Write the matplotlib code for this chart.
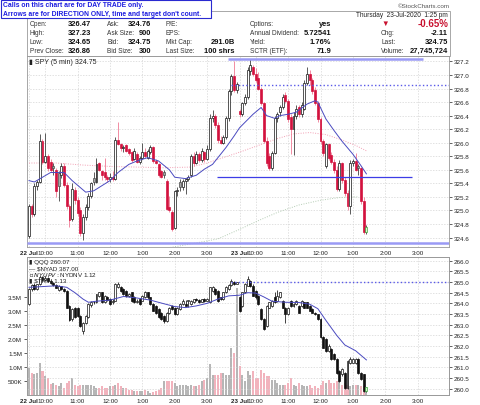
import numpy as np
import matplotlib.pyplot as plt
from matplotlib.patches import Rectangle

plt.rcParams['font.family'] = ['Liberation Sans', 'DejaVu Sans']

W, H = 480, 406

# SPY 5 min bars: bar 0 = 9:30 on 22 Jul, bar 78 = 9:30 on 23 Jul
spy_open = [324.62, 325.06, 324.95, 325.36, 325.42, 326.02, 325.72, 325.80, 325.72, 325.66,
            325.60, 325.55, 325.52, 325.66, 325.38, 325.06, 324.88, 325.30, 325.16, 325.00,
            324.66, 324.90, 325.05, 325.22, 325.48, 325.42, 325.70, 325.58, 325.56, 325.50,
            325.46, 325.50, 325.47, 326.04, 325.98, 325.92, 325.96, 325.90, 325.86, 325.76,
            325.84, 325.72, 325.78, 325.86, 325.78, 325.86, 325.93, 325.73, 325.68, 325.58,
            325.56, 325.44, 325.05, 324.98, 324.74, 325.28, 325.42, 325.34, 325.43, 325.46,
            325.52, 325.80, 325.70, 325.84, 325.74, 325.86, 325.76, 325.90, 326.36, 326.40,
            326.26, 326.04, 326.00, 326.08, 326.36, 326.76, 326.98, 326.78,
            326.47, 326.42, 326.58, 326.68, 327.06, 327.12, 327.02, 326.95, 326.80, 326.58,
            326.03, 325.80, 325.62, 325.85, 326.36, 326.45, 326.52, 326.70, 326.62, 326.38,
            326.20, 326.40, 326.52, 326.42, 326.50, 326.88, 327.02, 326.92, 326.78, 326.58,
            326.35, 326.02, 325.65, 325.98, 325.82, 325.72, 325.60, 325.32, 325.70, 325.45,
            325.26, 325.06, 325.70, 325.73, 325.66, 325.62, 325.14, 324.68]
spy_high = [325.10, 325.10, 325.40, 325.45, 326.13, 326.06, 326.15, 325.84, 325.76, 325.70,
            325.62, 325.58, 325.70, 325.70, 325.42, 325.10, 325.40, 325.34, 325.20, 325.05,
            324.95, 325.10, 325.25, 325.42, 325.56, 325.78, 325.72, 325.60, 325.78, 325.52,
            325.55, 325.58, 326.08, 326.30, 326.00, 325.96, 325.98, 325.92, 325.88, 325.92,
            325.86, 325.80, 326.00, 325.92, 325.90, 325.96, 325.95, 325.76, 325.70, 325.60,
            325.60, 325.46, 325.22, 325.00, 325.30, 325.34, 325.46, 325.46, 325.48, 325.52,
            325.84, 325.86, 325.88, 325.86, 325.92, 325.88, 325.96, 326.42, 326.48, 326.42,
            326.30, 326.10, 326.12, 326.40, 326.80, 327.02, 327.20, 326.90,
            326.50, 326.60, 326.72, 327.12, 327.23, 327.15, 327.10, 327.05, 326.82, 326.60,
            326.08, 325.85, 325.88, 326.40, 326.45, 326.55, 326.72, 326.75, 326.65, 326.42,
            326.45, 326.55, 326.55, 326.60, 326.92, 327.12, 327.08, 326.95, 326.82, 326.62,
            326.38, 326.05, 326.00, 326.00, 325.86, 325.76, 325.65, 325.74, 325.72, 325.50,
            325.30, 325.74, 325.76, 325.85, 325.68, 325.64, 325.20, 324.78]
spy_low = [324.60, 324.90, 324.92, 325.30, 325.40, 325.68, 325.70, 325.58, 325.56, 325.52,
           325.20, 325.14, 325.48, 325.35, 325.02, 324.76, 324.84, 325.10, 324.92, 324.62,
           324.56, 324.86, 325.00, 325.18, 325.38, 325.40, 325.58, 325.45, 325.45, 325.42,
           325.42, 325.44, 325.45, 325.96, 325.88, 325.86, 325.86, 325.82, 325.72, 325.74,
           325.70, 325.68, 325.76, 325.78, 325.76, 325.84, 325.70, 325.68, 325.50, 325.48,
           325.48, 325.00, 324.98, 324.70, 324.72, 325.22, 325.28, 325.30, 325.24, 325.44,
           325.50, 325.66, 325.68, 325.72, 325.72, 325.72, 325.74, 325.88, 326.30, 326.22,
           326.00, 325.98, 325.98, 326.05, 326.32, 326.70, 326.75, 326.74,
           326.38, 326.40, 326.55, 326.65, 327.00, 326.98, 326.90, 326.78, 326.55, 326.00,
           325.65, 325.59, 325.60, 325.84, 326.30, 326.40, 326.50, 326.58, 326.30, 325.83,
           325.82, 326.35, 326.38, 326.38, 326.48, 326.85, 326.85, 326.72, 326.55, 326.30,
           325.98, 325.80, 325.62, 325.75, 325.68, 325.55, 325.28, 325.28, 325.40, 325.22,
           325.00, 324.95, 325.66, 325.58, 325.52, 325.10, 324.65, 324.65]
spy_close = [325.06, 324.95, 325.36, 325.42, 326.02, 325.72, 325.80, 325.62, 325.60, 325.62,
             325.28, 325.36, 325.66, 325.38, 325.06, 324.86, 325.32, 325.16, 324.96, 324.66,
             324.90, 325.05, 325.22, 325.40, 325.42, 325.68, 325.60, 325.52, 325.50, 325.46,
             325.50, 325.47, 326.04, 325.98, 325.92, 325.94, 325.88, 325.85, 325.74, 325.88,
             325.72, 325.78, 325.86, 325.80, 325.88, 325.93, 325.73, 325.70, 325.53, 325.50,
             325.52, 325.02, 325.00, 324.73, 325.28, 325.30, 325.34, 325.43, 325.46, 325.50,
             325.80, 325.70, 325.84, 325.74, 325.88, 325.76, 325.90, 326.36, 326.40, 326.26,
             326.04, 326.00, 326.08, 326.36, 326.76, 326.98, 326.78, 326.86,
             326.42, 326.58, 326.68, 327.08, 327.15, 327.02, 326.92, 326.80, 326.58, 326.03,
             325.70, 325.62, 325.85, 326.36, 326.42, 326.52, 326.68, 326.62, 326.35, 326.20,
             326.40, 326.50, 326.42, 326.55, 326.88, 327.02, 326.92, 326.76, 326.58, 326.35,
             326.02, 325.85, 325.98, 325.78, 325.72, 325.60, 325.32, 325.70, 325.45, 325.26,
             325.06, 325.70, 325.73, 325.60, 325.62, 325.14, 324.68, 324.75]

# volume in millions of shares
spy_volume = [0.97, 0.79, 0.73, 0.78, 1.15, 0.85, 0.66, 0.60, 0.39, 0.42,
              0.35, 0.30, 0.42, 0.24, 0.42, 0.50, 0.60, 0.36, 0.30, 0.36,
              0.36, 0.36, 0.33, 0.33, 0.30, 0.24, 0.24, 0.30, 0.24, 0.24,
              0.30, 0.30, 0.36, 0.42, 0.30, 0.24, 0.24, 0.18, 0.18, 0.12,
              0.12, 0.12, 0.12, 0.18, 0.12, 0.06, 0.10, 0.12, 0.18, 0.24,
              0.48, 0.48, 0.48, 0.48, 0.42, 0.30, 0.36, 0.36, 0.36, 0.30,
              0.36, 0.30, 0.30, 0.36, 0.48, 0.54, 0.60, 1.09, 0.72, 0.72,
              0.72, 0.78, 0.78, 0.72, 0.72, 1.69, 1.51, 3.85,
              1.03, 0.72, 0.48, 0.84, 0.72, 0.84, 0.60, 0.60, 0.90, 0.78,
              0.66, 0.66, 0.54, 0.54, 0.42, 0.36, 0.36, 0.36, 0.42, 0.60,
              0.36, 0.30, 0.42, 0.36, 0.30, 0.30, 0.36, 0.24, 0.30, 0.24,
              0.36, 0.48, 0.42, 0.54, 0.42, 0.42, 0.48, 0.48, 0.36, 0.42,
              0.36, 0.30, 0.36, 0.36, 0.36, 0.30, 0.30, 0.24]

# moving averages (bar index, value)
spy_ema_x = [0, 2, 8, 13, 16, 21, 24, 28, 30, 33, 37, 40, 44, 48, 52, 54, 58, 62, 65, 68,
             70, 73, 76, 78, 83, 86, 88, 91, 93, 96, 99, 103, 106, 107, 110, 113, 116, 120, 123, 125]
spy_ema_y = [325.44, 325.42, 325.56, 325.56, 325.44, 325.27, 325.29, 325.39, 325.44, 325.56,
             325.68, 325.73, 325.78, 325.73, 325.60, 325.49, 325.47, 325.52, 325.61, 325.68,
             325.78, 325.93, 326.10, 326.22, 326.42, 326.52, 326.40, 326.36, 326.40, 326.42,
             326.45, 326.57, 326.62, 326.60, 326.35, 326.18, 326.02, 325.83, 325.66, 325.54]
spy_ma50_x = [0, 10, 20, 30, 40, 50, 60, 66, 72, 78, 85, 92, 98, 104, 110, 116, 121, 125]
spy_ma50_y = [325.70, 325.70, 325.67, 325.65, 325.64, 325.63, 325.64, 325.70, 325.78, 325.86,
              325.96, 326.06, 326.13, 326.15, 326.12, 326.04, 325.96, 325.88]
spy_ma200_x = [47, 55, 62, 70, 78, 85, 92, 100, 108, 115, 122]
spy_ma200_y = [324.42, 324.47, 324.52, 324.58, 324.72, 324.85, 324.97, 325.08, 325.15, 325.19, 325.20]

# QQQ 5 min bars, same time base
qqq_open = [263.96, 264.67, 264.88, 264.66, 264.90, 265.25, 265.10, 265.20, 265.05, 264.95,
            264.88, 264.62, 264.80, 264.66, 264.60, 263.86, 263.26, 263.80, 263.80, 263.42,
            262.72, 263.10, 263.34, 263.90, 264.04, 264.04, 264.35, 264.51, 264.04, 264.30,
            264.20, 264.04, 264.12, 264.75, 264.75, 264.67, 264.59, 264.35, 264.51, 264.28,
            264.04, 264.20, 264.12, 264.28, 264.51, 264.28, 263.96, 263.88, 263.73, 263.57,
            263.41, 263.18, 263.57, 263.88, 263.80, 263.49, 263.73, 263.96, 263.96, 264.12,
            263.96, 264.04, 264.20, 264.14, 264.08, 264.20, 264.12, 264.04, 264.59, 264.67,
            264.59, 264.28, 264.20, 264.51, 264.67, 264.86, 265.00, 264.90,
            264.30, 263.88, 264.51, 264.82, 265.06, 264.82, 264.59, 264.35, 263.73, 263.26,
            262.94, 263.80, 263.88, 264.28, 264.12, 264.28, 264.12, 263.80, 263.49, 264.12,
            263.88, 263.96, 263.88, 263.88, 264.04, 264.04, 263.88, 263.73, 263.57, 263.49,
            263.26, 262.40, 262.32, 261.77, 261.85, 261.61, 261.38, 260.83, 260.67, 260.75,
            260.05, 261.22, 261.22, 261.22, 261.38, 260.75, 260.67, 259.89]
qqq_high = [264.72, 264.92, 264.95, 264.92, 265.30, 265.30, 265.28, 265.22, 265.10, 265.02,
            264.92, 264.84, 264.82, 264.70, 264.62, 263.90, 263.78, 263.84, 263.85, 263.45,
            263.14, 263.45, 264.00, 264.10, 264.10, 264.46, 264.55, 264.55, 264.40, 264.34,
            264.25, 264.20, 264.95, 265.00, 264.80, 264.70, 264.62, 264.50, 264.55, 264.32,
            264.20, 264.22, 264.38, 264.56, 264.54, 264.30, 264.00, 263.90, 263.76, 263.60,
            263.45, 263.60, 263.85, 263.92, 263.84, 263.84, 264.00, 264.18, 264.16, 264.15,
            264.16, 264.22, 264.26, 264.20, 264.22, 264.24, 264.26, 264.78, 264.80, 264.70,
            264.62, 264.30, 264.55, 264.80, 264.90, 265.12, 265.06, 264.98,
            264.35, 264.55, 264.94, 265.29, 265.10, 264.90, 264.62, 264.38, 263.76, 263.30,
            263.92, 264.08, 264.15, 264.51, 264.62, 264.54, 264.15, 263.84, 263.84, 264.16,
            264.00, 264.15, 263.92, 264.15, 264.08, 264.08, 263.92, 263.76, 263.60, 263.52,
            263.30, 262.45, 262.36, 262.10, 261.90, 261.66, 261.42, 260.88, 260.95, 260.80,
            261.34, 261.47, 261.42, 261.42, 261.42, 260.80, 260.70, 260.10]
qqq_low = [263.90, 264.60, 264.62, 264.62, 264.88, 265.05, 265.05, 265.00, 264.90, 264.82,
           264.70, 264.58, 264.62, 264.55, 263.76, 263.15, 263.15, 263.30, 263.38, 262.90,
           262.55, 263.05, 263.30, 263.85, 263.98, 264.00, 264.30, 264.00, 264.00, 264.10,
           263.92, 263.98, 264.10, 264.70, 264.52, 264.40, 264.30, 264.30, 264.08, 264.00,
           264.00, 263.92, 264.10, 264.25, 264.22, 263.92, 263.62, 263.52, 263.30, 263.22,
           263.10, 263.14, 263.50, 263.70, 263.45, 263.45, 263.70, 263.92, 263.90, 263.85,
           263.92, 264.00, 264.10, 264.00, 264.05, 264.08, 264.10, 264.00, 264.55, 264.40,
           264.08, 264.15, 264.15, 264.48, 264.64, 264.82, 264.88, 264.90,
           263.60, 263.84, 264.48, 264.80, 264.78, 264.32, 264.22, 263.92, 263.22, 262.75,
           262.90, 263.76, 263.85, 264.00, 264.08, 264.24, 263.76, 263.10, 263.45, 263.85,
           263.84, 263.92, 263.54, 263.85, 263.76, 263.76, 263.62, 263.54, 263.45, 263.22,
           262.36, 261.90, 261.74, 261.72, 261.34, 261.34, 260.70, 260.32, 260.60, 259.98,
           260.00, 261.18, 261.20, 261.18, 260.70, 260.40, 259.85, 259.85]
qqq_close = [264.67, 264.88, 264.66, 264.90, 265.25, 265.10, 265.20, 265.05, 264.95, 264.88,
             264.74, 264.80, 264.66, 264.60, 263.80, 263.20, 263.72, 263.35, 263.42, 262.95,
             263.10, 263.42, 263.96, 264.04, 264.06, 264.43, 264.51, 264.04, 264.35, 264.15,
             263.96, 264.12, 264.90, 264.90, 264.59, 264.43, 264.35, 264.43, 264.12, 264.04,
             264.12, 263.96, 264.35, 264.51, 264.28, 263.96, 263.65, 263.57, 263.34, 263.26,
             263.18, 263.57, 263.80, 263.73, 263.49, 263.80, 263.96, 264.12, 263.88, 264.12,
             264.12, 264.20, 264.14, 264.08, 264.20, 264.12, 264.22, 264.75, 264.75, 264.43,
             264.12, 264.20, 264.51, 264.75, 264.86, 265.06, 264.90, 264.98,
             263.66, 264.51, 264.90, 265.14, 264.82, 264.35, 264.28, 263.96, 263.26, 262.79,
             263.88, 264.04, 264.12, 264.04, 264.35, 264.51, 263.80, 263.49, 263.80, 263.88,
             263.96, 264.12, 263.57, 264.12, 263.80, 263.80, 263.65, 263.57, 263.49, 263.26,
             262.40, 261.93, 261.77, 262.00, 261.38, 261.38, 260.75, 260.36, 260.91, 260.05,
             261.30, 261.38, 261.38, 261.38, 260.75, 260.44, 259.89, 260.07]

qqq_ema_x = [0, 10, 14, 17, 20, 22, 25, 30, 35, 40, 45, 50, 54, 58, 62, 66, 70, 74, 78, 81,
             84, 87, 90, 95, 100, 104, 107, 110, 114, 117, 121, 125]
qqq_ema_y = [264.75, 264.82, 264.75, 264.50, 264.20, 264.05, 264.10, 264.15, 264.32, 264.25,
             264.15, 263.98, 263.85, 263.80, 263.88, 264.00, 264.20, 264.35, 264.38, 264.50,
             264.48, 264.30, 264.10, 264.05, 264.04, 263.96, 263.75, 263.20, 262.50, 262.05,
             261.78, 261.35]

# trend lines drawn by the analyst (price, first bar, last bar)
spy_levels = [(327.23, 73.7, 146.0, '#9a9af5', 1.8, '-'),
              (326.85, 75.0, 155.6, '#5a5ae8', 1.0, ':'),
              (325.50, 69.5, 142.0, '#3c3ce6', 0.9, '-'),
              (324.52, -0.7, 155.6, '#9a9af5', 1.8, '-')]
qqq_levels = [(265.00, 75.0, 155.6, '#5a5ae8', 1.0, ':')]

hour_bars = [0, 6, 18, 30, 42, 54, 66, 78, 84, 96, 108, 120, 132, 144]
hour_labels = ['22 Jul', '10:00', '11:00', '12:00', '1:00', '2:00', '3:00',
               '23 Jul', '10:00', '11:00', '12:00', '1:00', '2:00', '3:00']

spy_ticks = [324.6, 324.8, 325.0, 325.2, 325.4, 325.6, 325.8, 326.0, 326.2, 326.4,
             326.6, 326.8, 327.0, 327.2]
qqq_ticks = [260.0, 260.5, 261.0, 261.5, 262.0, 262.5, 263.0, 263.5, 264.0, 264.5,
             265.0, 265.5, 266.0]
vol_ticks = [0.5, 1.0, 1.5, 2.0, 2.5, 3.0, 3.5]
vol_labels = ['500K', '1.0M', '1.5M', '2.0M', '2.5M', '3.0M', '3.5M']


def fx(x):
    return x / W


def fy(y):
    return 1 - y / H


XLIM = (-0.74, 155.6)
GRID = dict(color='#d4d4d4', lw=0.5, ls=(0, (2, 2)))

fig = plt.figure(figsize=(4.8, 4.06), dpi=100)
ax = fig.add_axes([fx(27), fy(248), fx(449) - fx(27), fy(57) - fy(248)])
axv = fig.add_axes([fx(27), fy(395.5), fx(449) - fx(27), fy(258) - fy(395.5)])
axq = axv.twinx()

# --- SPY candles
o, h, l, c = map(np.asarray, (spy_open, spy_high, spy_low, spy_close))
x = np.arange(len(c))
prev = np.r_[o[0], c[:-1]]
red = c < prev
hollow = c >= o
face = np.where(hollow, 'white', np.where(red, '#d3123e', '#a8a8a8')).tolist()
edge = np.where(red, '#d3123e', np.where(hollow, '#111111', '#4a4a4a')).tolist()
wick = np.where(red, '#f07a94', '#404040').tolist()
face[-1], edge[-1] = '#d6f5cf', '#3aa83a'
ax.vlines(x, l, h, colors=wick, lw=0.6, zorder=2)
ax.bar(x, np.maximum(np.abs(c - o), 0.01), bottom=np.minimum(o, c), width=0.72,
       color=face, edgecolor=edge, lw=0.5, zorder=3)

ax.plot(spy_ema_x, spy_ema_y, color='#4a4ac0', lw=0.7, zorder=4)
ax.plot(spy_ma50_x, spy_ma50_y, color='#f2a0b4', lw=0.7, ls=(0, (1, 1.5)), zorder=1)
ax.plot(spy_ma200_x, spy_ma200_y, color='#b4ccb4', lw=0.7, ls=(0, (1, 1.5)), zorder=1)
for lev, x0, x1, col, lw, ls in spy_levels:
    ax.hlines(lev, x0, x1, colors=col, lw=lw, linestyles=ls, zorder=5)

ax.set_xlim(*XLIM)
ax.set_ylim(324.46, 327.28)
ax.set_yticks(spy_ticks)
ax.set_yticklabels([f'{t:.1f}' for t in spy_ticks])
ax.yaxis.tick_right()
ax.set_xticks(hour_bars)
ax.set_xticklabels(hour_labels)
ax.grid(True, **GRID)
ax.set_axisbelow(True)
ax.text(0.004, 0.992, '\u25ae SPY (5 min) 324.75', transform=ax.transAxes, fontsize=5,
        va='top', ha='left', color='#222222', zorder=6)

# --- volume (left axis of the lower panel)
vol = np.asarray(spy_volume)
vcol = np.where(red, '#f2b3bd', '#b6b6b6').tolist()
axv.bar(x, vol, width=0.75, color=vcol, lw=0, zorder=2)
axv.set_ylim(0, 4.96)
axv.set_yticks(vol_ticks)
axv.set_yticklabels(vol_labels)
axv.set_xlim(*XLIM)
axv.set_xticks(hour_bars)
axv.set_xticklabels(hour_labels)
axv.grid(True, axis='x', **GRID)
axv.set_axisbelow(True)

# --- QQQ candles
qo, qh, ql, qc = map(np.asarray, (qqq_open, qqq_high, qqq_low, qqq_close))
qface = np.where(qc >= qo, 'white', '#111111').tolist()
qedge = ['#111111'] * len(qc)
qface[-1], qedge[-1] = '#d6f5cf', '#3aa83a'
axq.vlines(x, ql, qh, colors='#222222', lw=0.6, zorder=2)
axq.bar(x, np.maximum(np.abs(qc - qo), 0.03), bottom=np.minimum(qo, qc), width=0.72,
        color=qface, edgecolor=qedge, lw=0.5, zorder=3)
axq.plot(qqq_ema_x, qqq_ema_y, color='#4a4ac0', lw=0.7, zorder=4)
for lev, x0, x1, col, lw, ls in qqq_levels:
    axq.hlines(lev, x0, x1, colors=col, lw=lw, linestyles=ls, zorder=5)
axq.set_ylim(259.73, 266.17)
axq.set_yticks(qqq_ticks)
axq.set_yticklabels([f'{t:.1f}' for t in qqq_ticks])
axq.grid(True, axis='y', **GRID)
axq.set_xlim(*XLIM)

legend_lines = ['\u25ae QQQ 260.07', '\u2014 $NYAD 387.00',
                '\u25ae $NYUPV:$NYDNV 1.12', '\u25ae $TRIN 1.13']
for i, t in enumerate(legend_lines):
    axq.text(0.004, 0.985 - i * 0.044, t, transform=axq.transAxes, fontsize=4.5,
             va='top', ha='left', color='#222222', zorder=6)

for a in (ax, axv, axq):
    a.tick_params(axis='both', labelsize=4.5, length=2, width=0.5, pad=1.5,
                  colors='#222222')
    a.tick_params(axis='x', length=0, pad=2.5)
    for s in a.spines.values():
        s.set_color('#999999')
        s.set_linewidth(0.6)
for a in (ax, axv):
    for lab in a.get_xticklabels():
        if 'Jul' in lab.get_text():
            lab.set_fontweight('bold')

# --- header block
fig.add_artist(Rectangle((fx(27), fy(57)), fx(450) - fx(27), fy(11.7) - fy(57),
                         transform=fig.transFigure, fill=False, ec='#9a9a9a', lw=0.6))
fig.text(fx(450), fy(6), '\u00a9StockCharts.com', fontsize=4.5, ha='right', va='center',
         color='#555555')
fig.text(fx(448), fy(15.7), 'Thursday  23-Jul-2020  1:25 pm', fontsize=4.7, ha='right',
         va='center', color='#222222')

rows_y = [24.3, 33.7, 42.7, 51.7]
header_cols = [
    (30, 91, ['Open:', 'High:', 'Low:', 'Prev Close:'],
     ['326.47', '327.23', '324.65', '326.86']),
    (107, 151, ['Ask:', 'Ask Size:', 'Bid:', 'Bid Size:'],
     ['324.76', '900', '324.75', '300']),
    (166, 235, ['P/E:', 'EPS:', 'Mkt Cap:', 'Last Size:'],
     ['', '', '291.0B', '100 shrs']),
    (250, 331, ['Options:', 'Annual Dividend:', 'Yield:', 'SCTR (ETF):'],
     ['yes', '5.72541', '1.76%', '71.9']),
    (381, 448, ['', 'Chg:', 'Last:', 'Volume:'],
     ['', '-2.11', '324.75', '27,745,724']),
]
for lx, vx, labels, values in header_cols:
    for yy, lab, val in zip(rows_y, labels, values):
        fig.text(fx(lx), fy(yy), lab, fontsize=4.7, ha='left', va='center', color='#333333')
        fig.text(fx(vx), fy(yy), val, fontsize=5.4, ha='right', va='center',
                 fontweight='bold', color='#111111')
fig.text(fx(385), fy(24.3), '\u25bc', fontsize=5.5, ha='center', va='center', color='#c8102e')
fig.text(fx(448), fy(24.3), '-0.65%', fontsize=7, ha='right', va='center',
         fontweight='bold', color='#c8102e')

# --- blue note box
fig.add_artist(Rectangle((fx(2), fy(20)), fx(212) - fx(2), fy(1.5) - fy(20),
                         transform=fig.transFigure, fc='#9090a8', ec='none', zorder=9))
fig.add_artist(Rectangle((fx(0.5), fy(18.5)), fx(210.5) - fx(0.5), fy(0.5) - fy(18.5),
                         transform=fig.transFigure, fc='white', ec='#2a2ad0', lw=0.8,
                         zorder=10))
fig.text(fx(3), fy(5.7), 'Calls on this chart are for DAY TRADE only.', fontsize=4.9,
         fontweight='bold', color='#1c1ce0', ha='left', va='center', zorder=11)
fig.text(fx(3), fy(14), "Arrows are for DIRECTION ONLY, time and target don't count.",
         fontsize=4.9, fontweight='bold', color='#1c1ce0', ha='left', va='center', zorder=11)

fig.savefig('out.png', dpi=100)
